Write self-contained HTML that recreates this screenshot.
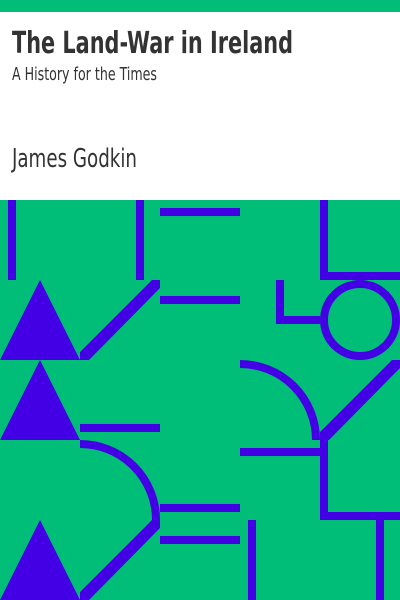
<!DOCTYPE html>
<html><head><meta charset="utf-8"><style>
html,body{margin:0;padding:0;width:400px;height:600px;overflow:hidden;background:#fff}
svg{display:block}
</style></head><body>
<svg width="400" height="600" viewBox="0 0 400 600">
<rect x="0" y="0" width="400" height="12" fill="#00BE78"/>
<rect x="0" y="12" width="400" height="188" fill="#fff"/>
<text x="12" y="53" font-family="'DejaVu Sans Condensed','DejaVu Sans',sans-serif" font-weight="bold" font-size="30" fill="#333" textLength="281" lengthAdjust="spacingAndGlyphs">The Land-War in Ireland</text>
<text x="12" y="80" font-family="'DejaVu Sans Condensed','DejaVu Sans',sans-serif" font-size="18" fill="#333" textLength="145" lengthAdjust="spacingAndGlyphs">A History for the Times</text>
<text x="12" y="167" font-family="'DejaVu Sans Condensed','DejaVu Sans',sans-serif" font-size="26" fill="#333" textLength="125" lengthAdjust="spacingAndGlyphs">James Godkin</text>
<g>
<rect x="0" y="200" width="400" height="400" fill="#00BE78"/>
<g fill="#4400E4">
<rect x="8" y="200" width="8" height="80"/>
<rect x="136" y="200" width="8" height="80"/>
<rect x="160" y="208" width="80" height="8"/>
<rect x="160" y="296" width="80" height="8"/>
<rect x="320" y="200" width="8" height="80"/>
<rect x="320" y="272" width="80" height="8"/>
<rect x="276" y="280" width="8" height="44"/>
<rect x="276" y="316" width="44" height="8"/>
<polygon points="40,280 80,360 0,360"/>
<polygon points="40,360 80,440 0,440"/>
<polygon points="40,520 80,600 0,600"/>
<polygon points="80,352 152,280 160,280 160,288 89,360 80,360"/>
<polygon points="320,432 392,360 400,360 400,368 329,440 320,440"/>
<polygon points="80,592 152,520 160,520 160,528 89,600 80,600"/>
<rect x="80" y="424" width="80" height="8"/>
<rect x="160" y="504" width="80" height="8"/>
<rect x="160" y="536" width="80" height="8"/>
<rect x="248" y="520" width="8" height="80"/>
<rect x="240" y="448" width="80" height="8"/>
<rect x="320" y="440" width="8" height="80"/>
<rect x="320" y="512" width="80" height="8"/>
<rect x="376" y="520" width="8" height="80"/>
</g>
<g fill="none" stroke="#4400E4" stroke-width="8">
<circle cx="360" cy="320" r="36"/>
<path d="M240,364 A76,76 0 0 1 316,440"/>
<path d="M80,444 A76,76 0 0 1 156,520"/>
</g>
</g>
</svg>
</body></html>
